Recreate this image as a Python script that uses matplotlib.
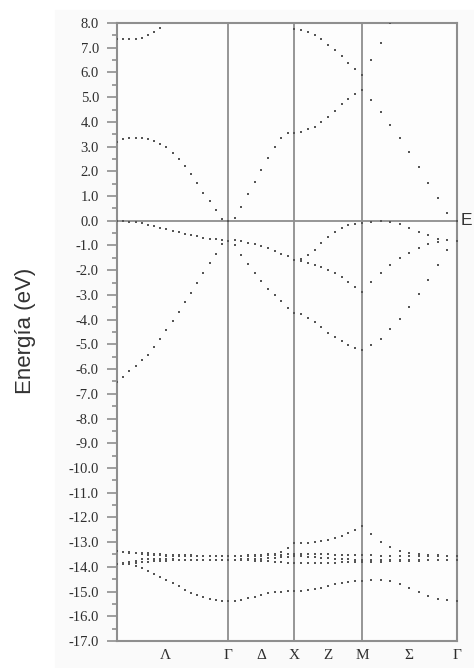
import numpy as np
import matplotlib
matplotlib.use('Agg')
from matplotlib import pyplot as plt
from matplotlib.patches import Rectangle

# high-symmetry points R-Γ-X-M-Γ (path lengths)
k_nodes = [0.0, 1.11, 1.773, 2.447, 3.397]
k_labels = ['Λ', 'Γ', 'Δ', 'X', 'Z', 'M', 'Σ', 'Γ']
k_label_pos = [0.48, 1.11, 1.44, 1.773, 2.11, 2.447, 2.92, 3.397]
n_seg = [19, 10, 10, 10]  # dots per segment (first segment incl. both ends)

nan = np.nan

# energies (eV), one list per segment: Λ (R->Γ), Δ (Γ->X), Z (X->M), Σ (M->Γ)
c1_lam = [3.19, 3.29, 3.33, 3.35, 3.35, 3.29, 3.23, 3.12, 2.99, 2.75, 2.48, 2.21, 1.88, 1.53, 1.14, 0.78, 0.43, 0.07, 0.00]
c1_del = [0.13, 0.55, 1.10, 1.55, 2.04, 2.52, 2.98, 3.33, 3.53, 3.57]
c1_z = [3.60, 3.70, 3.80, 3.99, 4.19, 4.43, 4.71, 4.92, 5.12, 5.28]
c1_sig = [4.90, 4.39, 3.88, 3.34, 2.77, 2.18, 1.53, 0.93, 0.30, 0.00]

c2_lam = [7.37, 7.35, 7.35, 7.35, 7.40, 7.51, 7.62, 7.81] + [nan] * 11
c2_del = [nan] * 10
c2_z = [nan] * 10
c2_sig = [nan] * 10

c3_lam = [nan] * 19
c3_del = [nan] * 9 + [7.75]
c3_z = [7.71, 7.64, 7.51, 7.35, 7.13, 6.90, 6.66, 6.40, 6.13, 5.89]
c3_sig = [6.50, 7.20, 7.98] + [nan] * 7

v1_lam = [0.00, -0.01, -0.03, -0.07, -0.11, -0.17, -0.23, -0.29, -0.35, -0.41, -0.47, -0.52, -0.58, -0.63, -0.68, -0.72, -0.75, -0.77, -0.80]
v1_del = [-0.79, -0.82, -0.90, -0.95, -1.03, -1.11, -1.22, -1.33, -1.44, -1.57]
v1_z = [-1.56, -1.37, -1.17, -0.90, -0.66, -0.45, -0.28, -0.18, -0.14, -0.09]
v1_sig = [-0.05, -0.02, -0.05, -0.14, -0.28, -0.45, -0.59, -0.72, -0.79, -0.80]

v2_lam = v1_lam
v2_del = v1_del
v2_z = [-1.62, -1.70, -1.79, -1.89, -2.00, -2.13, -2.29, -2.47, -2.67, -2.88]
v2_sig = [-2.48, -2.11, -1.77, -1.51, -1.29, -1.10, -0.95, -0.86, -0.79, -0.80]

v3_lam = [-6.54, -6.32, -6.08, -5.86, -5.65, -5.42, -5.11, -4.77, -4.41, -4.06, -3.69, -3.29, -2.91, -2.52, -2.11, -1.71, -1.33, -0.96, -0.80]
v3_del = [-0.99, -1.37, -1.73, -2.10, -2.44, -2.75, -3.02, -3.26, -3.51, -3.73]
v3_z = [-3.79, -3.92, -4.10, -4.30, -4.53, -4.70, -4.87, -5.01, -5.13, -5.21]
v3_sig = [-5.04, -4.77, -4.39, -3.99, -3.49, -2.98, -2.38, -1.80, -1.19, -0.80]

l1_lam = [-13.88, -13.88, -13.90, -13.95, -14.05, -14.15, -14.27, -14.40, -14.53, -14.66, -14.79, -14.92, -15.04, -15.14, -15.23, -15.30, -15.35, -15.38, -15.39]
l1_del = [-15.37, -15.33, -15.27, -15.20, -15.13, -15.07, -15.02, -15.00, -14.99, -14.99]
l1_z = [-14.97, -14.94, -14.89, -14.84, -14.77, -14.70, -14.64, -14.60, -14.57, -14.57]
l1_sig = [-14.53, -14.53, -14.58, -14.69, -14.85, -15.03, -15.16, -15.30, -15.36, -15.39]

l2_lam = [-13.37, -13.38, -13.40, -13.42, -13.44, -13.46, -13.48, -13.50, -13.51, -13.52, -13.53, -13.54, -13.54, -13.55, -13.55, -13.55, -13.55, -13.55, -13.55]
l2_del = [-13.55, -13.55, -13.54, -13.53, -13.52, -13.50, -13.47, -13.41, -13.25, -13.03]
l2_z = [-13.03, -13.03, -13.01, -12.97, -12.92, -12.85, -12.76, -12.64, -12.50, -12.35]
l2_sig = [-12.69, -12.98, -13.18, -13.36, -13.45, -13.50, -13.52, -13.54, -13.55, -13.55]

l3_lam = [-13.37, -13.40, -13.43, -13.46, -13.49, -13.51, -13.53, -13.54, -13.55, -13.56, -13.56, -13.56, -13.56, -13.56, -13.56, -13.56, -13.56, -13.56, -13.56]
l3_del = [-13.56, -13.56, -13.56, -13.55, -13.55, -13.54, -13.53, -13.51, -13.49, -13.47]
l3_z = [-13.47, -13.47, -13.48, -13.49, -13.50, -13.51, -13.52, -13.53, -13.54, -13.54]
l3_sig = [-13.54, -13.55, -13.55, -13.56, -13.56, -13.56, -13.56, -13.56, -13.55, -13.55]

l4_lam = [-13.88, -13.86, -13.82, -13.76, -13.70, -13.68, -13.68, -13.69, -13.70, -13.70, -13.71, -13.71, -13.72, -13.72, -13.72, -13.72, -13.72, -13.72, -13.72]
l4_del = [-13.71, -13.70, -13.69, -13.68, -13.67, -13.65, -13.63, -13.61, -13.59, -13.57]
l4_z = [-13.58, -13.59, -13.61, -13.63, -13.65, -13.67, -13.69, -13.70, -13.71, -13.72]
l4_sig = [-13.72, -13.72, -13.72, -13.72, -13.72, -13.72, -13.72, -13.72, -13.72, -13.72]

l5_lam = [-13.88, -13.88, -13.87, -13.85, -13.82, -13.79, -13.77, -13.76, -13.75, -13.74, -13.74, -13.73, -13.73, -13.73, -13.73, -13.72, -13.72, -13.72, -13.72]
l5_del = [-13.72, -13.73, -13.74, -13.75, -13.76, -13.78, -13.80, -13.82, -13.84, -13.85]
l5_z = [-13.85, -13.85, -13.84, -13.84, -13.83, -13.83, -13.82, -13.82, -13.81, -13.81]
l5_sig = [-13.80, -13.79, -13.78, -13.77, -13.76, -13.75, -13.74, -13.73, -13.72, -13.72]

bands = [
    (c1_lam, c1_del, c1_z, c1_sig),
    (c2_lam, c2_del, c2_z, c2_sig),
    (c3_lam, c3_del, c3_z, c3_sig),
    (v1_lam, v1_del, v1_z, v1_sig),
    (v2_lam, v2_del, v2_z, v2_sig),
    (v3_lam, v3_del, v3_z, v3_sig),
    (l1_lam, l1_del, l1_z, l1_sig),
    (l2_lam, l2_del, l2_z, l2_sig),
    (l3_lam, l3_del, l3_z, l3_sig),
    (l4_lam, l4_del, l4_z, l4_sig),
    (l5_lam, l5_del, l5_z, l5_sig),
]


def k_grid():
    parts = [np.linspace(k_nodes[0], k_nodes[1], n_seg[0])]
    for i in range(1, 4):
        parts.append(np.linspace(k_nodes[i], k_nodes[i + 1], n_seg[i] + 1)[1:])
    return np.concatenate(parts)


def main():
    grey = '#8e8e8e'
    fig = plt.figure(figsize=(4.74, 6.68), dpi=100)
    # faint backdrop of the scanned figure
    fig.patches.append(Rectangle((55 / 474, 0), 1 - 55 / 474, 1 - 10 / 668,
                                 transform=fig.transFigure, color='#fafafa', zorder=-1))
    ax = fig.add_axes([117 / 474, 1 - 641 / 668, (457 - 117) / 474, (641 - 23) / 668])
    ax.set_facecolor('#fdfdfd')

    k = k_grid()
    for seg in bands:
        e = np.concatenate([np.asarray(s, dtype=float) for s in seg])
        ax.plot(k, e, ls='none', marker='s', ms=1.9, mew=0, color='#555555', zorder=3)

    for kx in k_nodes[1:4]:
        ax.axvline(kx, color=grey, lw=1.3, zorder=2)
    ax.axhline(0, color=grey, lw=1.3, zorder=2)

    ax.set_xlim(k_nodes[0], k_nodes[-1])
    ax.set_ylim(-17, 8)

    yt = np.arange(-17, 8.01, 1.0)
    ax.set_yticks(yt)
    ax.set_yticklabels([f'{v:.1f}'.replace('−', '-') for v in yt],
                       fontfamily='Liberation Serif', fontsize=10.5, color='#2e2e2e')
    ax.set_yticks(np.arange(-16.5, 8, 1.0), minor=True)
    ax.tick_params(axis='y', which='major', direction='out', length=7, width=1.2, color=grey, pad=6)
    ax.tick_params(axis='y', which='minor', direction='out', length=3.5, width=1.2, color=grey)

    ax.set_xticks(k_label_pos)
    ax.set_xticklabels(k_labels, fontfamily='Liberation Serif', fontsize=11, color='#2e2e2e')
    ax.tick_params(axis='x', length=0, pad=6)

    for sp in ax.spines.values():
        sp.set_color(grey)
        sp.set_linewidth(1.5)

    ax.annotate('E', xy=(1.0, 0), xycoords=('axes fraction', 'data'), xytext=(2.5, 0),
                textcoords='offset points', ha='left', va='center',
                fontfamily='Liberation Sans', fontsize=12.5, color='#333333')

    fig.text(25 / 474, 1 - 331 / 668, 'Energía (eV)', rotation=90, ha='center', va='center',
             fontfamily='Liberation Sans', fontsize=16, color='#333333')

    fig.savefig('out.png', dpi=100)


if __name__ == '__main__':
    main()
